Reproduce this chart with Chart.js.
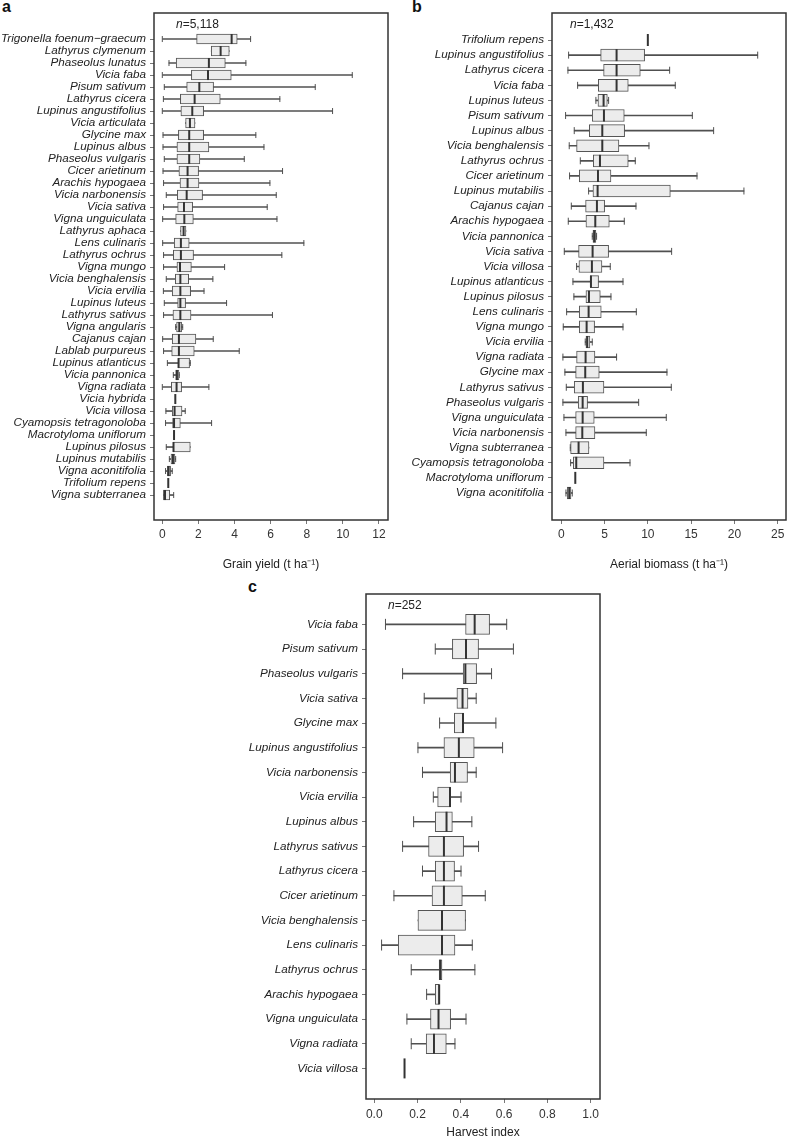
<!DOCTYPE html>
<html><head><meta charset="utf-8">
<script src="https://cdn.jsdelivr.net/npm/chart.js@4"></script>
<style>
body{margin:0;background:#fff;width:787px;height:1140px;position:relative;overflow:hidden;font-family:"Liberation Sans",Arial,sans-serif;}
canvas{position:absolute;}
.lt{position:absolute;font-weight:bold;font-size:16px;line-height:16px;color:#111;}
</style></head><body>
<div class="lt" style="left:2px;top:-1px">a</div>
<div class="lt" style="left:412px;top:-1px">b</div>
<div class="lt" style="left:248px;top:579px">c</div>
<canvas id="ca" width="395" height="575" style="left:0;top:0;width:395px;height:575px"></canvas>
<canvas id="cb" width="387" height="575" style="left:400px;top:0;width:387px;height:575px"></canvas>
<canvas id="cc" width="380" height="570" style="left:240px;top:570px;width:380px;height:570px"></canvas>
<script>
// ---------- Panel a: grain yield ----------
const namesA = ["Trigonella foenum\u2212graecum","Lathyrus clymenum","Phaseolus lunatus","Vicia faba","Pisum sativum","Lathyrus cicera","Lupinus angustifolius","Vicia articulata","Glycine max","Lupinus albus","Phaseolus vulgaris","Cicer arietinum","Arachis hypogaea","Vicia narbonensis","Vicia sativa","Vigna unguiculata","Lathyrus aphaca","Lens culinaris","Lathyrus ochrus","Vigna mungo","Vicia benghalensis","Vicia ervilia","Lupinus luteus","Lathyrus sativus","Vigna angularis","Cajanus cajan","Lablab purpureus","Lupinus atlanticus","Vicia pannonica","Vigna radiata","Vicia hybrida","Vicia villosa","Cyamopsis tetragonoloba","Macrotyloma uniflorum","Lupinus pilosus","Lupinus mutabilis","Vigna aconitifolia","Trifolium repens","Vigna subterranea"];
const minA = [0,2.71,0.37,0,0.11,0.06,0,1.29,0.04,0.04,0.11,0.04,0.07,0.22,0.07,0.02,1.01,0.02,0.07,0.07,0.22,0.06,0.11,0.07,0.74,0.02,0.07,0.28,0.61,0,0.72,0.20,0.18,0.65,0.22,0.39,0.18,0.33,0.06];
const q1A  = [1.90,2.71,0.77,1.61,1.35,1.00,1.03,1.29,0.89,0.81,0.81,0.92,0.98,0.83,0.85,0.74,1.01,0.66,0.61,0.81,0.72,0.55,0.85,0.59,0.79,0.55,0.52,0.89,0.74,0.50,0.72,0.55,0.57,0.65,0.61,0.48,0.28,0.33,0.06];
const medA = [3.84,3.23,2.58,2.53,2.05,1.79,1.66,1.53,1.49,1.49,1.49,1.40,1.40,1.35,1.20,1.22,1.18,1.03,1.03,0.98,1.00,1.00,1.00,1.00,0.94,0.92,0.92,0.90,0.81,0.79,0.72,0.68,0.65,0.65,0.62,0.59,0.35,0.33,0.15];
const q3A  = [4.15,3.71,3.49,3.82,2.84,3.21,2.29,1.81,2.29,2.58,2.08,2.01,2.03,2.23,1.68,1.72,1.31,1.49,1.73,1.61,1.46,1.57,1.29,1.59,1.07,1.86,1.77,1.51,0.92,1.07,0.72,1.09,1.00,0.65,1.55,0.70,0.46,0.33,0.41];
const maxA = [4.89,3.71,4.63,10.52,8.47,6.51,9.43,1.81,5.18,5.63,4.54,6.66,5.96,6.31,5.81,6.35,1.31,7.84,6.62,3.45,2.80,2.31,3.56,6.10,1.13,2.82,4.26,1.55,0.94,2.58,0.72,1.27,2.73,0.65,1.55,0.74,0.55,0.33,0.63];
const ticksA = [0,2,4,6,8,10,12];
const tickLabelsA = ["0","2","4","6","8","10","12"];

// ---------- Panel b: aerial biomass ----------
const namesB = ["Trifolium repens","Lupinus angustifolius","Lathyrus cicera","Vicia faba","Lupinus luteus","Pisum sativum","Lupinus albus","Vicia benghalensis","Lathyrus ochrus","Cicer arietinum","Lupinus mutabilis","Cajanus cajan","Arachis hypogaea","Vicia pannonica","Vicia sativa","Vicia villosa","Lupinus atlanticus","Lupinus pilosus","Lens culinaris","Vigna mungo","Vicia ervilia","Vigna radiata","Glycine max","Lathyrus sativus","Phaseolus vulgaris","Vigna unguiculata","Vicia narbonensis","Vigna subterranea","Cyamopsis tetragonoloba","Macrotyloma uniflorum","Vigna aconitifolia"];
const minB = [10.0,0.85,0.77,1.89,4.00,0.50,1.50,0.92,2.20,0.96,3.16,1.16,0.81,3.58,0.35,1.77,1.35,1.46,0.62,0.23,2.77,0.19,0.42,0.58,0.19,0.31,0.54,1.04,1.08,1.62,0.54];
const q1B  = [10.0,4.55,4.89,4.28,4.24,3.58,3.24,1.77,3.70,2.08,3.66,2.81,2.85,3.66,2.00,2.04,3.35,2.85,2.08,2.08,2.85,1.77,1.66,1.50,1.96,1.66,1.66,1.08,1.39,1.62,0.69];
const medB = [10.0,6.39,6.39,6.39,4.89,4.93,4.74,4.74,4.47,4.24,4.20,4.12,3.93,3.81,3.62,3.54,3.43,3.20,3.16,2.93,3.00,2.81,2.77,2.50,2.47,2.47,2.43,2.00,1.73,1.62,0.92];
const q3B  = [10.0,9.63,9.13,7.74,5.32,7.28,7.32,6.66,7.74,5.74,12.60,5.01,5.55,4.00,5.47,4.70,4.31,4.51,4.62,3.85,3.31,3.89,4.39,4.93,3.04,3.81,3.89,3.20,4.93,1.62,1.12];
const maxB = [10.0,22.69,12.52,13.17,5.47,15.14,17.60,10.13,8.55,15.68,21.10,8.63,7.28,4.08,12.75,5.66,7.13,5.74,8.67,7.13,3.58,6.39,12.21,12.71,8.94,12.13,9.82,3.20,7.94,1.62,1.27];
const ticksB = [0,5,10,15,20,25];
const tickLabelsB = ["0","5","10","15","20","25"];

// ---------- Panel c: harvest index ----------
const namesC = ["Vicia faba","Pisum sativum","Phaseolus vulgaris","Vicia sativa","Glycine max","Lupinus angustifolius","Vicia narbonensis","Vicia ervilia","Lupinus albus","Lathyrus sativus","Lathyrus cicera","Cicer arietinum","Vicia benghalensis","Lens culinaris","Lathyrus ochrus","Arachis hypogaea","Vigna unguiculata","Vigna radiata","Vicia villosa"];
const minC = [0.052,0.282,0.131,0.231,0.302,0.202,0.223,0.273,0.182,0.131,0.223,0.091,0.202,0.034,0.171,0.242,0.151,0.171,0.140];
const q1C  = [0.422,0.361,0.411,0.382,0.370,0.322,0.351,0.293,0.282,0.251,0.282,0.267,0.202,0.111,0.300,0.282,0.260,0.240,0.140];
const medC = [0.464,0.424,0.421,0.408,0.410,0.391,0.373,0.350,0.334,0.322,0.322,0.322,0.313,0.313,0.305,0.300,0.297,0.276,0.140];
const q3C  = [0.533,0.482,0.473,0.433,0.413,0.462,0.431,0.351,0.361,0.413,0.371,0.407,0.422,0.373,0.313,0.300,0.353,0.333,0.140];
const maxC = [0.612,0.643,0.542,0.471,0.562,0.593,0.471,0.401,0.451,0.482,0.401,0.513,0.422,0.453,0.465,0.300,0.424,0.373,0.140];
const ticksC = [0,0.2,0.4,0.6,0.8,1.0];
const tickLabelsC = ["0.0","0.2","0.4","0.6","0.8","1.0"];

Chart.defaults.font.family = '"Liberation Sans", Arial, sans-serif';
Chart.defaults.font.size = 12;
Chart.defaults.color = '#222';

function makeBoxChart(id, names, mins, q1s, meds, q3s, maxs, xTicks, xTickLabels, xTitle, nText, g) {
  const boxes = [], whiskers = [], caps = [], medians = [];
  names.forEach((_, i) => {
    const y = i + 1;
    if (q3s[i] > q1s[i]) boxes.push({x: [q1s[i], q3s[i]], y});
    if (maxs[i] > mins[i]) whiskers.push({x: [mins[i], maxs[i]], y});
    if (mins[i] < q1s[i]) caps.push({x: mins[i], y});
    if (maxs[i] > q3s[i]) caps.push({x: maxs[i], y});
    medians.push({x: meds[i], y});
  });
  const framePlugin = {
    id: 'frame',
    afterDraw(chart) {
      const {ctx, chartArea: {left, top, right, bottom}} = chart;
      ctx.save();
      ctx.strokeStyle = '#333';
      ctx.lineWidth = 1.5;
      ctx.strokeRect(left, top, right - left, bottom - top);
      ctx.fillStyle = '#222';
      ctx.textBaseline = 'middle';
      ctx.textAlign = 'left';
      let x = left + g.nDx, y = top + 12;
      ctx.font = 'italic 12px "Liberation Sans", Arial, sans-serif';
      ctx.fillText('n', x, y);
      x += ctx.measureText('n').width;
      ctx.font = '12px "Liberation Sans", Arial, sans-serif';
      ctx.fillText(nText, x, y);
      ctx.restore();
    }
  };
  return new Chart(document.getElementById(id), {
    type: 'bar',
    data: {
      datasets: [
        {type: 'scatter', data: medians, pointStyle: 'line', rotation: 90, pointRadius: g.medR, pointHoverRadius: g.medR, borderColor: '#333', backgroundColor: '#333', borderWidth: 2, order: 0},
        {type: 'bar', data: boxes, backgroundColor: '#ececec', borderColor: '#555', borderWidth: 1, borderSkipped: false, barThickness: g.boxH, grouped: false, order: 1},
        {type: 'bar', data: whiskers, backgroundColor: '#505050', borderWidth: 0, barThickness: 1, grouped: false, order: 2},
        {type: 'scatter', data: caps, pointStyle: 'line', rotation: 90, pointRadius: g.capR, pointHoverRadius: g.capR, borderColor: '#505050', backgroundColor: '#505050', borderWidth: 1, order: 3}
      ]
    },
    options: {
      indexAxis: 'y',
      responsive: false,
      animation: false,
      events: [],
      layout: {autoPadding: false, padding: {top: g.padTop, right: g.padRight, left: 0, bottom: 0}},
      plugins: {legend: {display: false}, tooltip: {enabled: false}},
      scales: {
        x: {
          type: 'linear', position: 'bottom', min: g.xmin, max: g.xmax, offset: false,
          grid: {display: true, drawOnChartArea: false, drawTicks: true, tickLength: 4, color: '#777', offset: false},
          border: {display: false},
          ticks: {autoSkip: false, maxRotation: 0, padding: g.tickPad, color: '#333', font: {size: 12},
                  callback: (v, i) => xTickLabels[i]},
          afterBuildTicks: s => { s.ticks = xTicks.map(v => ({value: v})); },
          afterFit: s => { s.height = g.xAxisH; s.paddingLeft = 0; s.paddingRight = 0; },
          title: {display: true, text: xTitle, color: '#222', font: {size: 12}, padding: {top: 0, bottom: g.titlePad}}
        },
        y: {
          type: 'linear', position: 'left', reverse: true, min: g.ymin, max: g.ymax, offset: false,
          grid: {display: true, drawOnChartArea: false, drawTicks: true, tickLength: 4, color: '#777', offset: false},
          border: {display: false},
          ticks: {autoSkip: false, padding: 4, color: '#222', font: {size: 11.7, style: 'italic'},
                  callback: v => names[Math.round(v) - 1] || ''},
          afterBuildTicks: s => { s.ticks = names.map((_, i) => ({value: i + 1})); },
          afterFit: s => { s.width = g.yAxisW; s.paddingTop = 0; s.paddingBottom = 0; }
        }
      }
    },
    plugins: [framePlugin]
  });
}

makeBoxChart('ca', namesA, minA, q1A, medA, q3A, maxA, ticksA, tickLabelsA, 'Grain yield (t ha\u207B\u00B9)', '=5,118',
  {xmin: -0.46, xmax: 12.5, ymin: -1.17, ymax: 41.08, yAxisW: 154, xAxisH: 55, padTop: 13, padRight: 7,
   tickPad: 3, titlePad: 3, boxH: 10, medR: 5, capR: 3, nDx: 22});
makeBoxChart('cb', namesB, minB, q1B, medB, q3B, maxB, ticksB, tickLabelsB, 'Aerial biomass (t ha\u207B\u00B9)', '=1,432',
  {xmin: -1.07, xmax: 25.96, ymin: -0.79, ymax: 32.79, yAxisW: 152, xAxisH: 55, padTop: 13, padRight: 1,
   tickPad: 3, titlePad: 3, boxH: 12, medR: 6, capR: 3.5, nDx: 18});
makeBoxChart('cc', namesC, minC, q1C, medC, q3C, maxC, ticksC, tickLabelsC, 'Harvest index', '=252',
  {xmin: -0.038, xmax: 1.043, ymin: -0.23, ymax: 20.24, yAxisW: 126, xAxisH: 41, padTop: 24, padRight: 20,
   tickPad: 4, titlePad: 0, boxH: 20, medR: 10, capR: 5.5, nDx: 22});
</script>
</body></html>
